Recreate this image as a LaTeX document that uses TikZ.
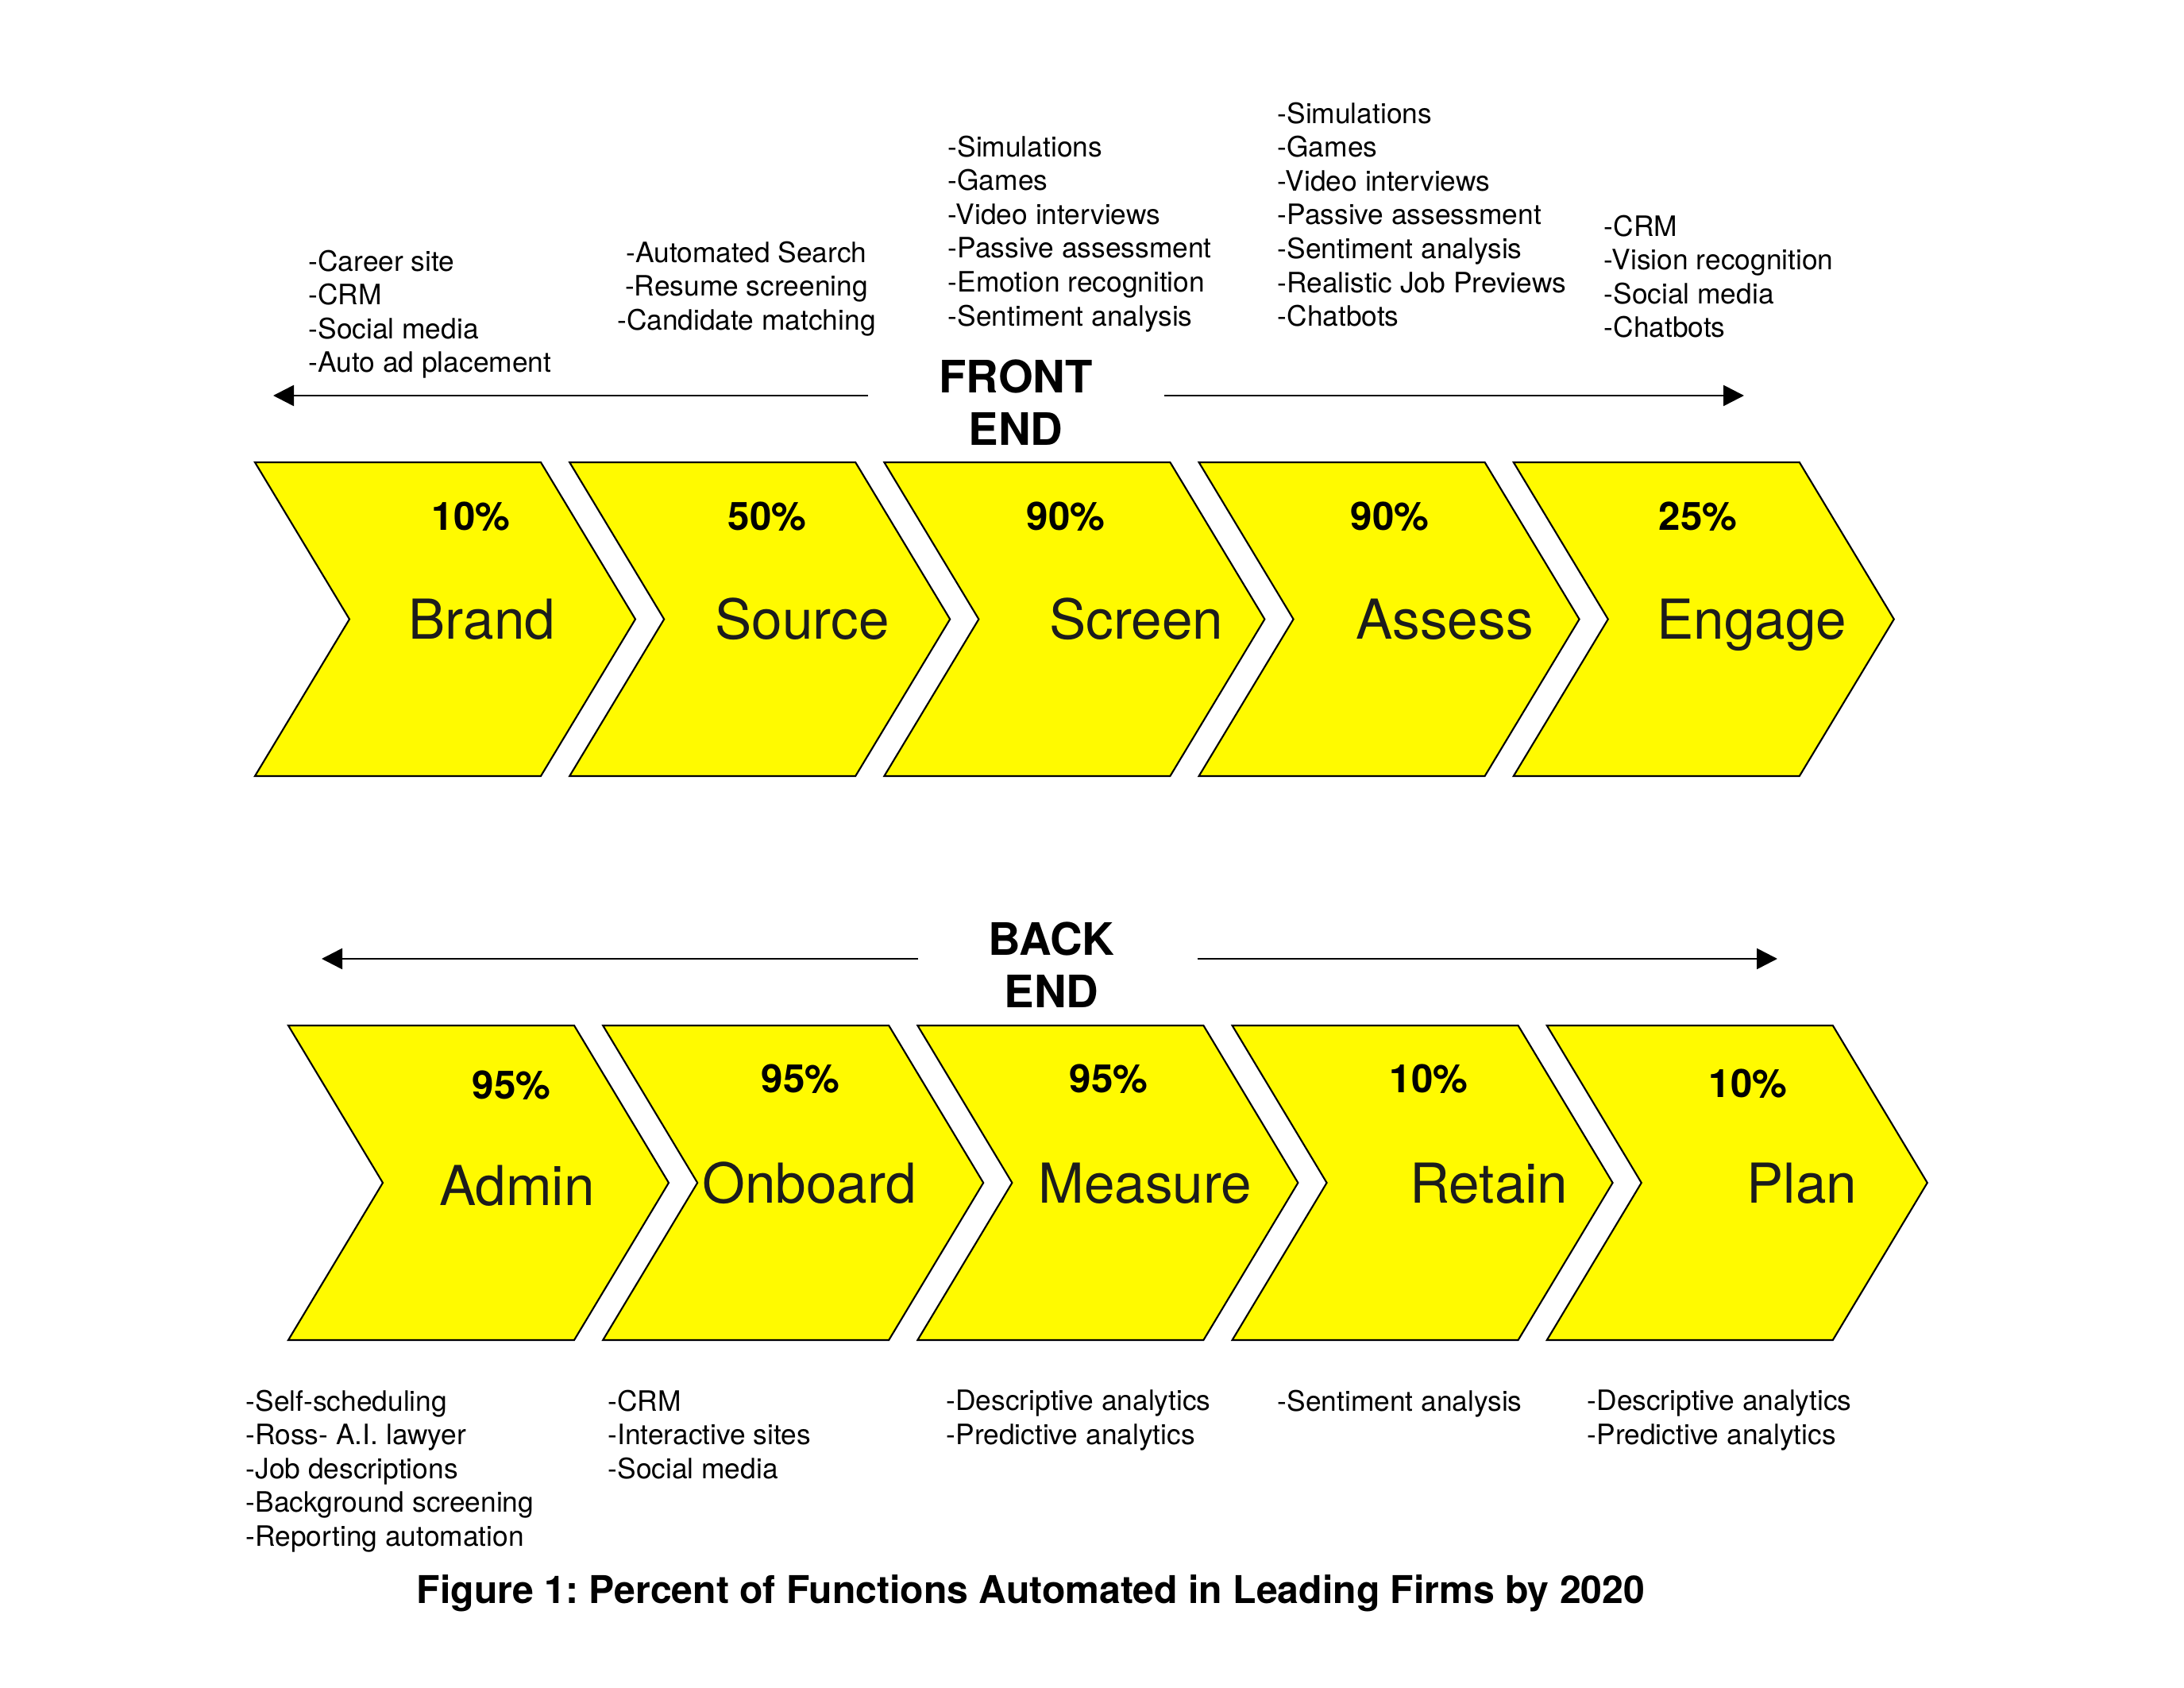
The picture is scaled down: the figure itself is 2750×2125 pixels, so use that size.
\documentclass[tikz,border=0pt]{standalone}
\usepackage{fontspec}
\setmainfont{TeX Gyre Heros}
\usetikzlibrary{arrows.meta}
\definecolor{chevfill}{RGB}{255,250,0}
\definecolor{inkgray}{RGB}{28,28,28}
\frenchspacing
\begin{document}
\begin{tikzpicture}[x=0.01cm,y=-0.01cm,
  chev/.style={draw=black, line width=0.6pt, fill=chevfill, line join=miter},
  pct/.style={font=\bfseries\fontsize{14}{16}\selectfont, inner sep=0pt, anchor=base},
  stage/.style={font=\fontsize{19.7}{23}\selectfont, text=inkgray, inner sep=0pt, anchor=base},
  items/.style={font=\fontsize{10.05}{12.12}\selectfont, align=left, anchor=north west, inner sep=0pt},
  phase/.style={font=\bfseries\fontsize{16}{18.9}\selectfont, align=center, inner sep=0pt, anchor=north},
  span/.style={line width=0.75pt, -{Triangle[length=0.26cm,width=0.26cm]}},
]
\useasboundingbox (0,0) rectangle (2750,2125);

% front-end chevrons
\foreach \x in {321,717.2,1113.4,1509.6,1905.8}
  \draw[chev] (\x,582) -- (\x+360,582) -- (\x+479,779.5) -- (\x+360,977)
    -- (\x,977) -- (\x+119,779.5) -- cycle;
% back-end chevrons
\foreach \x in {363,759.2,1155.4,1551.6,1947.8}
  \draw[chev] (\x,1291) -- (\x+360,1291) -- (\x+479,1489) -- (\x+360,1687)
    -- (\x,1687) -- (\x+119,1489) -- cycle;

% stage names and shares
\node[pct] (pbrand)  at (593,668)  {10\%};
\node[pct] (psource) at (966,668)  {50\%};
\node[pct] (pscreen) at (1342,668) {90\%};
\node[pct] (passess) at (1750,668) {90\%};
\node[pct] (pengage) at (2138,668) {25\%};
\node[stage] (brand)  at (607,805)  {Brand};
\node[stage] (source) at (1010,805) {Source};
\node[stage] (screen) at (1431,805) {Screen};
\node[stage] (assess) at (1819,805) {Assess};
\node[stage] (engage) at (2206,805) {Engage};

\node[pct] (padmin)   at (644,1383)  {95\%};
\node[pct] (ponboard) at (1008,1376) {95\%};
\node[pct] (pmeasure) at (1396,1376) {95\%};
\node[pct] (pretain)  at (1799,1376) {10\%};
\node[pct] (pplan)    at (2201,1381) {10\%};
\node[stage] (admin)   at (651,1517)  {Admin};
\node[stage] (onboard) at (1019,1514) {Onboard};
\node[stage] (measure) at (1442,1514) {Measure};
\node[stage] (retain)  at (1875,1514) {Retain};
\node[stage] (plan)    at (2269,1514) {Plan};

% phase labels with their spans
\node[phase] (front) at (1279,452) {FRONT\\END};
\coordinate (fl0) at (1093,498); \coordinate (fl1) at (344,498);
\coordinate (fr0) at (1466,498); \coordinate (fr1) at (2196,498);
\draw[span] (fl0) -- (fl1);
\draw[span] (fr0) -- (fr1);

\node[phase] (back) at (1324,1160) {BACK\\END};
\coordinate (bl0) at (1156,1207); \coordinate (bl1) at (405,1207);
\coordinate (br0) at (1508,1207); \coordinate (br1) at (2238,1207);
\draw[span] (bl0) -- (bl1);
\draw[span] (br0) -- (br1);

% tools per stage
\node[items] (lbrand) at (388,314) {-Career site\\-CRM\\-Social media\\-Auto ad placement};
\node[items, align=center, anchor=north] (lsource) at (940,303) {-Automated Search\\-Resume screening\\-Candidate matching};
\node[items] (lscreen) at (1193,170) {-Simulations\\-Games\\-Video interviews\\-Passive assessment\\-Emotion recognition\\-Sentiment analysis};
\node[items] (lassess) at (1608,128) {-Simulations\\-Games\\-Video interviews\\-Passive assessment\\-Sentiment analysis\\-Realistic Job Previews\\-Chatbots};
\node[items] (lengage) at (2019,270) {-CRM\\-Vision recognition\\-Social media\\-Chatbots};

\node[items] (ladmin) at (309,1749) {-Self-scheduling\\-Ross- A.I. lawyer\\-Job descriptions\\-Background screening\\-Reporting automation};
\node[items] (lonboard) at (765,1749) {-CRM\\-Interactive sites\\-Social media};
\node[items] (lmeasure) at (1191,1749) {-Descriptive analytics\\-Predictive analytics};
\node[items] (lretain) at (1608,1749) {-Sentiment analysis};
\node[items] (lplan) at (1998,1749) {-Descriptive analytics\\-Predictive analytics};

% caption
\node[font=\bfseries\fontsize{13.7}{16}\selectfont, inner sep=0pt, anchor=base] (caption) at (1298,2018)
  {Figure 1: Percent of Functions Automated in Leading Firms by 2020};
\end{tikzpicture}
\end{document}
